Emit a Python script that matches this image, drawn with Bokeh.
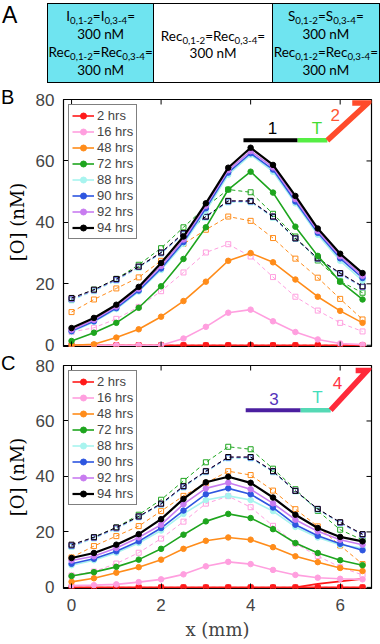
from bokeh.plotting import figure
from bokeh.models import Range1d, FixedTicker, Legend, LegendItem, Div
from bokeh.layouts import column, row
from bokeh.embed import file_html
from bokeh.resources import INLINE
from bokeh.core.properties import value

# ---------------- data ----------------
x_mm = [0, 0.5, 1, 1.5, 2, 2.5, 3, 3.5, 4, 4.5, 5, 5.5, 6, 6.5]
series_labels = ["2 hrs", "16 hrs", "48 hrs", "72 hrs", "88 hrs", "90 hrs", "92 hrs", "94 hrs"]
series_colors = ["#ff1a1a", "#ff9fdf", "#ff8c1a", "#1ea51e", "#a8f4ef", "#2e56e0", "#c87cf0", "#000000"]

# panel B, measured (solid)
b_2h = [0, 0, 0, 0, 0, 0, 0, 0, 0, 0, 0, 0, 0, 0]
b_16h = [0, 0, 0, 0, 0, 2.2, 6.0, 10.6, 11.6, 7.8, 4.3, 1.9, 0.6, 0.2]
b_48h = [0, 0.3, 2.5, 5.2, 9.3, 14.4, 20.7, 27.5, 30.0, 27.0, 21.4, 15.8, 11.2, 7.3]
b_72h = [1.4, 4.1, 7.3, 12.2, 19.2, 28.1, 38.4, 50.7, 56.5, 49.7, 38.6, 29.1, 20.7, 14.9]
b_88h = [4.4, 7.6, 11.8, 17.5, 24.5, 33.0, 43.8, 55.5, 62.0, 56.5, 46.2, 36.0, 27.5, 21.0]
b_90h = [4.6, 7.8, 12.1, 17.8, 25.0, 33.6, 44.6, 56.2, 62.5, 57.2, 46.8, 36.6, 28.3, 21.9]
b_92h = [5.0, 8.3, 12.6, 18.4, 25.8, 34.4, 45.4, 57.0, 63.2, 57.9, 47.6, 37.2, 29.0, 22.6]
b_94h = [5.6, 8.9, 13.2, 19.0, 26.8, 35.4, 46.2, 57.8, 64.3, 58.7, 48.6, 38.0, 29.8, 23.5]

# panel C, measured (solid)
c_2h = [0, 0, 0, 0, 0, 0, 0, 0, 0, 0, 0, 0, 0, 0]
c_16h = [0.7, 0.8, 1.1, 1.9, 2.9, 4.7, 7.6, 9.2, 8.4, 6.3, 4.5, 3.5, 3.1, 2.9]
c_48h = [2.0, 3.3, 5.3, 7.3, 10.0, 13.9, 16.8, 18.0, 17.2, 14.5, 11.2, 9.1, 7.0, 5.9]
c_72h = [4.1, 5.5, 7.4, 10.0, 13.9, 19.0, 23.8, 26.5, 25.0, 21.0, 16.0, 12.4, 9.8, 8.0]
c_88h = [8.0, 9.8, 12.5, 16.0, 20.5, 26.5, 31.5, 33.0, 31.5, 27.5, 21.8, 18.0, 15.3, 14.2]
c_90h = [8.5, 10.3, 13.0, 16.6, 21.4, 27.7, 33.6, 35.7, 33.6, 28.8, 22.6, 18.6, 15.7, 13.4]
c_92h = [9.7, 11.2, 14.2, 18.0, 22.6, 30.0, 35.7, 37.7, 35.4, 30.3, 24.4, 20.2, 17.2, 15.4]
c_94h = [10.6, 12.4, 15.4, 19.2, 24.6, 31.9, 37.9, 39.9, 37.7, 32.4, 26.2, 21.4, 18.2, 16.6]
c_2h_rise_x = [5, 5.5, 6, 6.5]
c_2h_rise_y = [0, 1.3, 2.2, 3.1]

# simulated (dashed, open squares) - same in B and C
d_2h = [0, 0, 0, 0, 0, 0, 0, 0, 0, 0, 0, 0, 0, 0]
d_16h = [4.3, 5.7, 8.6, 12.5, 17.6, 23.7, 30.2, 32.9, 28.9, 22.2, 15.8, 11.3, 7.3, 4.5]
d_48h = [10.8, 14.9, 18.5, 22.1, 27.5, 33.0, 37.6, 41.9, 40.5, 34.9, 28.2, 22.0, 15.1, 8.4]
d_72h = [14.9, 18.1, 21.6, 26.2, 31.6, 38.4, 45.1, 50.7, 49.8, 42.8, 35.4, 27.6, 20.8, 17.1]
d_88h = [14.6, 17.6, 21.0, 25.2, 29.8, 36.0, 41.5, 46.5, 46.5, 41.5, 34.6, 28.0, 23.0, 18.8]
d_90h = [15.0, 17.9, 21.3, 25.5, 30.0, 36.3, 41.8, 46.8, 46.8, 41.8, 34.8, 28.2, 23.3, 19.0]
d_92h = [15.2, 18.0, 21.5, 25.6, 30.2, 36.5, 42.0, 47.0, 47.0, 42.0, 34.9, 28.3, 23.4, 19.1]
d_94h = [15.4, 18.1, 21.6, 25.6, 30.2, 36.5, 41.9, 47.0, 47.0, 41.9, 34.8, 28.3, 23.5, 19.2]

x_ticks = [0, 2, 4, 6]
y_ticks = [0, 20, 40, 60, 80]
x_lo, x_hi = -0.18, 6.70
y_lo, y_hi = -0.4, 80
y_label = "[O] (nM)"
x_label = "x (mm)"

# strand diagrams (data coordinates of each panel)
diag_b = {
    "segs": [([3.84, 5.05], [66.7, 66.7], "#000000", 4), ([5.05, 5.714], [66.7, 66.7], "#55ee44", 4.5),
             ([5.714, 6.626, 6.27], [66.7, 78.9, 78.9], "#ff4b2b", 5.5)],
    "texts": [(4.49, 70.6, "1", "#000000"), (5.48, 70.6, "T", "#44dd33"), (5.89, 74.9, "2", "#ff5533")],
}
diag_c = {
    "segs": [([3.89, 5.117], [63.9, 63.9], "#4b1fa0", 4), ([5.117, 5.788], [63.9, 63.9], "#55d9b5", 4.5),
             ([5.788, 6.608, 6.346], [63.9, 78.2, 78.2], "#ff2a3a", 5.5)],
    "texts": [(4.52, 67.9, "3", "#5533bb"), (5.49, 68.4, "T", "#44ddbb"), (5.94, 73.8, "4", "#ff3344")],
}

# panel A texts: (text, is_subscript)
box_fill = ["#6fe4f0", "#ffffff", "#6fe4f0"]
box_lines = [
    [[("I", 0), ("0,1-2", 1), ("=I", 0), ("0,3-4", 1), ("=", 0)], [("300 nM", 0)],
     [("Rec", 0), ("0,1-2", 1), ("=Rec", 0), ("0,3-4", 1), ("=", 0)], [("300 nM", 0)]],
    [[("Rec", 0), ("0,1-2", 1), ("=Rec", 0), ("0,3-4", 1), ("=", 0)], [("300 nM", 0)]],
    [[("S", 0), ("0,1-2", 1), ("=S", 0), ("0,3-4", 1), ("=", 0)], [("300 nM", 0)],
     [("Rec", 0), ("0,1-2", 1), ("=Rec", 0), ("0,3-4", 1), ("=", 0)], [("300 nM", 0)]],
]
box_widths = [107, 119, 107]
box_line_h = [18, 17, 18]
box_pad_top = [0, 4, 0]

# ---------------- panel A (HTML) ----------------
def line_html(parts):
    s = ""
    for t, sub in parts:
        if sub:
            s += ('<span style="font-size:0.72em;position:relative;top:0.36em;line-height:0;">'
                  + t + '</span>')
        else:
            s += t
    return '<div style="white-space:nowrap;">' + s + '</div>'

cells = ""
for i, lines in enumerate(box_lines):
    border = "border-right:1.5px solid #000;" if i < len(box_lines) - 1 else ""
    cells += ('<div style="box-sizing:border-box;width:%dpx;height:100%%;background:%s;%s'
              'display:flex;flex-direction:column;justify-content:center;align-items:center;'
              'text-align:center;font-size:13.5px;line-height:%dpx;padding-top:%dpx;">'
              % (box_widths[i], box_fill[i], border, box_line_h[i], box_pad_top[i]))
    cells += "".join(line_html(l) for l in lines) + '</div>'

html = ('<div style="position:relative;width:380px;height:87px;font-family:Lato,\'Open Sans\',sans-serif;color:#000;">'
        '<div style="position:absolute;left:2px;top:2px;font-family:\'Liberation Sans\';font-size:23px;line-height:26px;">A</div>'
        '<div style="position:absolute;left:47px;top:3px;width:333px;height:80px;display:flex;'
        'box-sizing:border-box;border:1.5px solid #000;">' + cells + '</div></div>')
divA = Div(text=html, width=380, height=87, margin=0)


def side_div(letter, height, letter_top, label_cy):
    h = ('<div style="position:relative;width:30px;height:%dpx;color:#000;">'
         '<div style="position:absolute;left:1px;top:%dpx;font-family:\'Liberation Sans\';font-size:20px;line-height:20px;">%s</div>'
         '<div style="position:absolute;left:18px;top:%dpx;transform:translate(-50%%,-50%%) rotate(-90deg);'
         'white-space:nowrap;font-family:\'DejaVu Serif\';font-size:18px;line-height:20px;">%s</div></div>'
         % (height, letter_top, letter, label_cy, y_label))
    return Div(text=h, width=30, height=height, margin=0)


# ---------------- panels B, C ----------------
def make_panel(solids, dashed, diag, frame_h, top_b, bot_b, show_x, extra=None):
    p = figure(frame_width=308, frame_height=frame_h, x_range=Range1d(x_lo, x_hi),
               y_range=Range1d(y_lo, y_hi), output_backend="svg", toolbar_location=None,
               min_border_left=33, min_border_right=9, min_border_top=top_b, min_border_bottom=bot_b,
               x_axis_location="below" if show_x else None)
    p.grid.visible = False
    p.outline_line_color = "black"
    p.outline_line_width = 1.2
    p.background_fill_color = "white"
    p.border_fill_color = "white"

    # dashed simulations
    for ys, col in zip(dashed, series_colors):
        p.line(x_mm, ys, line_color=col, line_width=1, line_dash="4 3")
        p.scatter(x_mm, ys, marker="square", size=5, line_color=col, fill_color=None, line_width=1)
    if extra is not None:
        p.line(extra[0], extra[1], line_color=series_colors[0], line_width=1.8)
    items = []
    for ys, col, lab in zip(solids, series_colors, series_labels):
        lw = 2.2 if col == "#000000" else 1.6
        r1 = p.line(x_mm, ys, line_color=col, line_width=lw)
        r2 = p.scatter(x_mm, ys, marker="circle", size=5.5, line_color=col, fill_color=col)
        items.append(LegendItem(label=lab, renderers=[r1, r2]))

    for xs, ys, col, w in diag["segs"]:
        p.line(xs, ys, line_color=col, line_width=w, line_cap="butt", line_join="miter")
    for tx, ty, tt, tc in diag["texts"]:
        p.text([tx], [ty], text=[tt], text_color=tc, text_font=value("Liberation Sans"),
               text_font_size="17px", text_align="center", text_baseline="middle")

    # inward tick marks on the unlabeled sides (top, right, and bottom when no labels)
    tick_px = 5.0
    dy = tick_px * (y_hi - y_lo) / frame_h
    dx = tick_px * (x_hi - x_lo) / 308
    p.segment(x_ticks, [y_hi] * len(x_ticks), x_ticks, [y_hi - dy] * len(x_ticks), line_color="black", line_width=1)
    p.segment([x_hi] * len(y_ticks), y_ticks, [x_hi - dx] * len(y_ticks), y_ticks, line_color="black", line_width=1)
    if not show_x:
        p.segment(x_ticks, [y_lo] * len(x_ticks), x_ticks, [y_lo + dy] * len(x_ticks), line_color="black", line_width=1)

    leg = Legend(items=items, location="top_left", margin=5, padding=3, spacing=1,
                 label_height=15, glyph_height=15, glyph_width=22, label_standoff=3,
                 label_text_font="Liberation Sans", label_text_font_size="13px",
                 border_line_color="black", border_line_width=1, background_fill_alpha=1)
    p.add_layout(leg)

    ya = p.yaxis[0]
    ya.ticker = FixedTicker(ticks=y_ticks)
    ya.major_tick_in = 5
    ya.major_tick_out = 0
    ya.minor_tick_in = 0
    ya.minor_tick_out = 0
    ya.axis_line_color = None
    ya.major_label_text_font = "Liberation Sans"
    ya.major_label_text_font_size = "17px"
    ya.major_label_standoff = 9

    if show_x:
        xa = p.xaxis[0]
        xa.ticker = FixedTicker(ticks=x_ticks)
        xa.major_tick_in = 5
        xa.major_tick_out = 0
        xa.minor_tick_in = 0
        xa.minor_tick_out = 0
        xa.axis_line_color = None
        xa.major_label_text_font = "Liberation Sans"
        xa.major_label_text_font_size = "17px"
        xa.major_label_standoff = 10
        xa.axis_label = x_label
        xa.axis_label_text_font = "DejaVu Serif"
        xa.axis_label_text_font_size = "18px"
        xa.axis_label_text_font_style = "normal"
        xa.axis_label_standoff = 5
    return p

pB = make_panel([b_2h, b_16h, b_48h, b_72h, b_88h, b_90h, b_92h, b_94h],
                [d_2h, d_16h, d_48h, d_72h, d_88h, d_90h, d_92h, d_94h], diag_b,
                247, 12, 9, False)
pC = make_panel([c_2h, c_16h, c_48h, c_72h, c_88h, c_90h, c_92h, c_94h],
                [d_2h, d_16h, d_48h, d_72h, d_88h, d_90h, d_92h, d_94h], diag_c,
                223, 10, 56, True, extra=(c_2h_rise_x, c_2h_rise_y))

divB = side_div("B", 268, 0, 135)
divC = side_div("C", 289, -2, 122)

layout = column(divA, row(divB, pB, spacing=0), row(divC, pC, spacing=0), spacing=0)
open("out.html", "w").write(file_html(layout, INLINE))
